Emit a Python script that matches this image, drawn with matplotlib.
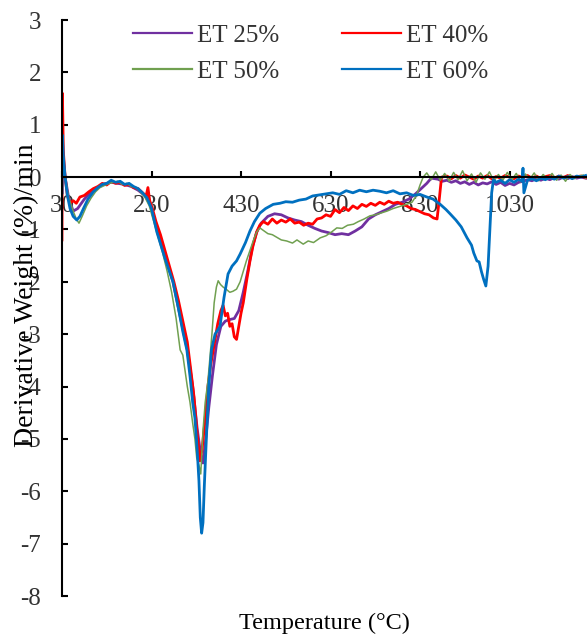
import matplotlib
matplotlib.use('Agg')
import matplotlib.pyplot as plt

plt.rcParams['font.family'] = ['Liberation Serif', 'DejaVu Serif']
plt.rcParams['axes.unicode_minus'] = False

# DTG data (temperature in C, derivative weight in %/min)
temp_25 = [30, 31, 33, 37, 45, 55, 65, 80, 95, 110, 125, 140, 155, 170, 185, 200, 215, 227,
           242, 260, 278, 295, 310, 322, 332, 340, 345, 350, 358, 366, 375, 385, 395, 405,
           415, 425, 435, 445, 455, 465, 475, 490, 505, 520, 535, 550, 565, 580, 595, 610,
           625, 640, 655, 670, 685, 700, 715, 730, 745, 760, 775, 790, 805, 820, 835, 845,
           855, 870, 880, 890, 900, 910, 920, 930, 940, 950, 960, 970, 980, 990, 1000, 1010,
           1020, 1030, 1040, 1050, 1060, 1070, 1080, 1090, 1100, 1110, 1120, 1130, 1140,
           1150, 1160, 1170, 1180, 1190, 1200]
dtg_25 = [-0.3, 0.7, 0.3, 0.0, -0.4, -0.65, -0.6, -0.42, -0.28, -0.2, -0.13, -0.1, -0.12,
          -0.14, -0.18, -0.25, -0.35, -0.52, -0.98, -1.5, -2.0, -2.7, -3.3, -4.0, -4.8, -5.3,
          -5.46, -5.1, -4.4, -3.8, -3.2, -2.85, -2.75, -2.72, -2.7, -2.55, -2.2, -1.8, -1.35,
          -1.05, -0.88, -0.75, -0.7, -0.72, -0.78, -0.82, -0.85, -0.92, -0.98, -1.03, -1.06,
          -1.1, -1.08, -1.1, -1.03, -0.95, -0.8, -0.72, -0.66, -0.6, -0.52, -0.48, -0.42,
          -0.32, -0.2, -0.12, -0.02, -0.04, -0.08, -0.06, -0.1, -0.07, -0.12, -0.09, -0.14,
          -0.1, -0.15, -0.11, -0.13, -0.09, -0.14, -0.1, -0.16, -0.12, -0.15, -0.1, -0.08,
          -0.05, -0.07, -0.03, -0.06, -0.02, -0.05, -0.01, -0.04, 0.0, -0.03, 0.01, -0.02,
          0.0, -0.02]

temp_40 = [30, 31, 33, 37, 42, 48, 55, 62, 70, 80, 90, 100, 110, 120, 130, 140, 150, 160,
           170, 180, 190, 200, 210, 218, 222, 226, 232, 240, 250, 260, 270, 280, 290, 300,
           310, 318, 325, 332, 338, 343, 350, 356, 362, 370, 378, 385, 390, 395, 400, 405,
           410, 415, 420, 425, 430, 435, 443, 450, 457, 465, 472, 480, 490, 500, 510, 520,
           530, 540, 550, 560, 570, 580, 590, 600, 610, 620, 630, 640, 650, 660, 670, 680,
           690, 700, 710, 720, 730, 740, 750, 760, 770, 780, 790, 800, 810, 820, 830, 840,
           850, 860, 868, 872, 878, 890, 900, 910, 920, 930, 940, 950, 960, 970, 980, 990,
           1000, 1010, 1020, 1030, 1040, 1050, 1060, 1070, 1080, 1090, 1100, 1110, 1120,
           1130, 1140, 1150, 1160, 1170, 1180, 1190, 1200]
dtg_40 = [-1.2, 1.6, 0.5, 0.0, -0.35, -0.5, -0.45, -0.5, -0.38, -0.35, -0.28, -0.22, -0.18,
          -0.12, -0.15, -0.08, -0.12, -0.1, -0.16, -0.14, -0.2, -0.22, -0.3, -0.36, -0.2,
          -0.45, -0.6, -0.85, -1.1, -1.4, -1.7, -2.0, -2.35, -2.75, -3.15, -3.7, -4.2, -4.9,
          -5.42, -5.2, -4.6, -4.0, -3.6, -3.2, -2.8, -2.55, -2.45, -2.65, -2.6, -2.85, -2.8,
          -3.05, -3.1, -2.85, -2.6, -2.4, -1.95, -1.6, -1.3, -1.05, -0.92, -0.85, -0.9, -0.8,
          -0.88, -0.82, -0.86, -0.8, -0.88, -0.86, -0.92, -0.88, -0.9, -0.8, -0.78, -0.72,
          -0.75, -0.62, -0.68, -0.58, -0.64, -0.55, -0.6, -0.52, -0.56, -0.5, -0.54, -0.48,
          -0.52, -0.46, -0.5, -0.48, -0.52, -0.55, -0.6, -0.62, -0.66, -0.7, -0.72, -0.78,
          -0.8, -0.5, 0.0, 0.02, -0.03, 0.03, -0.02, 0.04, 0.0, -0.04, 0.02, -0.02, 0.03,
          -0.03, 0.01, -0.02, 0.03, 0.0, -0.03, 0.02, -0.01, 0.03, -0.02, 0.02, -0.03, 0.01,
          0.03, -0.02, 0.02, -0.01, 0.03, -0.02, 0.01, 0.02, -0.01]

temp_50 = [30, 31, 33, 37, 45, 55, 62, 68, 75, 85, 95, 105, 115, 125, 135, 145, 155, 165,
           175, 185, 195, 205, 215, 225, 235, 245, 255, 265, 275, 285, 294, 300, 305, 310,
           316, 322, 327, 331, 336, 340, 345, 350, 356, 360, 365, 370, 375, 379, 384, 390,
           398, 405, 412, 420, 428, 435, 442, 450, 458, 465, 472, 480, 490, 500, 510, 520,
           532, 545, 555, 569, 580, 592, 607, 620, 632, 644, 656, 668, 681, 692, 705, 718,
           730, 745, 756, 770, 785, 800, 812, 822, 830, 837, 845, 855, 865, 875, 885, 895,
           905, 915, 925, 935, 945, 955, 965, 975, 985, 995, 1005, 1015, 1025, 1035, 1045,
           1055, 1065, 1075, 1085, 1095, 1105, 1115, 1125, 1135, 1145, 1155, 1165, 1175,
           1185, 1195, 1200]
dtg_50 = [-0.2, 0.75, 0.4, 0.0, -0.4, -0.65, -0.8, -0.88, -0.75, -0.55, -0.4, -0.28, -0.2,
          -0.16, -0.12, -0.1, -0.08, -0.14, -0.12, -0.18, -0.2, -0.28, -0.38, -0.55, -0.85,
          -1.15, -1.45, -1.8, -2.2, -2.7, -3.3, -3.4, -3.7, -4.0, -4.3, -4.7, -5.0, -5.36,
          -5.5, -5.67, -4.85, -4.3, -3.9, -3.5, -3.0, -2.4, -2.1, -1.98, -2.05, -2.1, -2.15,
          -2.2, -2.18, -2.14, -2.0, -1.8, -1.6, -1.4, -1.2, -1.05, -0.97, -1.02, -1.08, -1.1,
          -1.15, -1.2, -1.22, -1.26, -1.2, -1.28, -1.22, -1.25, -1.16, -1.12, -1.05, -0.97,
          -0.98, -0.92, -0.9, -0.85, -0.8, -0.74, -0.72, -0.68, -0.65, -0.6, -0.56, -0.52,
          -0.48, -0.35, -0.15, 0.0, 0.08, -0.05, 0.1, -0.06, 0.07, -0.08, 0.09, -0.05, 0.12,
          -0.07, 0.06, -0.1, 0.08, -0.04, 0.1, -0.08, 0.05, -0.06, 0.09, -0.05, 0.07, -0.09,
          0.06, -0.04, 0.08, -0.07, 0.05, -0.03, 0.07, -0.06, 0.04, -0.08, 0.05, -0.03, 0.02,
          0.04, -0.02]

temp_60 = [30, 31, 33, 37, 42, 48, 55, 63, 70, 78, 88, 100, 110, 120, 130, 140, 150, 160,
           170, 180, 190, 200, 210, 220, 230, 242, 260, 278, 290, 300, 309, 316, 322, 327,
           332, 336, 339, 342, 345, 348, 353, 358, 364, 372, 383, 392, 401, 410, 420, 428,
           440, 450, 460, 472, 485, 502, 517, 530, 545, 560, 575, 590, 605, 620, 635, 650,
           665, 680, 695, 710, 725, 740, 755, 770, 785, 800, 815, 830, 845, 859, 875, 888,
           897, 910, 922, 935, 945, 950, 957, 962, 967, 972, 977, 982, 986, 990, 994, 1000,
           1010, 1020, 1030, 1040, 1050, 1058, 1060, 1062, 1070, 1080, 1090, 1100, 1110,
           1120, 1130, 1140, 1150, 1160, 1170, 1180, 1190, 1200]
dtg_60 = [-0.3, 0.8, 0.4, 0.0, -0.35, -0.6, -0.75, -0.82, -0.75, -0.6, -0.42, -0.28, -0.2,
          -0.14, -0.12, -0.06, -0.1, -0.08, -0.14, -0.12, -0.18, -0.22, -0.3, -0.4, -0.6,
          -1.05, -1.55, -2.0, -2.5, -2.95, -3.3, -3.8, -4.3, -4.6, -5.2, -5.8, -6.5, -6.8,
          -6.6, -5.9, -4.9, -4.0, -3.3, -3.0, -2.85, -2.3, -1.85, -1.7, -1.6, -1.47, -1.25,
          -1.03, -0.85, -0.69, -0.6, -0.52, -0.5, -0.47, -0.48, -0.44, -0.42, -0.36, -0.34,
          -0.32, -0.3, -0.33, -0.26, -0.3, -0.25, -0.28, -0.25, -0.27, -0.3, -0.26, -0.32,
          -0.3, -0.35, -0.33, -0.38, -0.42, -0.52, -0.62, -0.7, -0.82, -0.95, -1.16, -1.3,
          -1.45, -1.6, -1.62, -1.8, -1.95, -2.08, -1.7, -1.0, -0.3, -0.05, -0.1, -0.06, -0.12,
          -0.05, -0.1, -0.04, -0.08, 0.17, -0.3, -0.06, -0.03, -0.07, -0.02, -0.05, 0.0,
          -0.04, 0.02, -0.02, 0.01, -0.03, 0.02, 0.0, 0.03]

x_ticks = [30, 230, 430, 630, 830, 1030]
y_ticks = [-8, -7, -6, -5, -4, -3, -2, -1, 0, 1, 2, 3]

fig = plt.figure(figsize=(5.87, 6.35), dpi=100)
ax = fig.add_axes([0.1056, 0.0614, 0.8944, 0.9071])

l25, = ax.plot(temp_25, dtg_25, color='#7030A0', lw=2.0, label='ET 25%')
l40, = ax.plot(temp_40, dtg_40, color='#FF0000', lw=2.0, label='ET 40%')
l50, = ax.plot(temp_50, dtg_50, color='#70A050', lw=1.1, label='ET 50%')
l60, = ax.plot(temp_60, dtg_60, color='#0070C0', lw=2.0, label='ET 60%')

ax.set_xlim(30, 1203)
ax.set_ylim(-8, 3)
ax.set_xticks(x_ticks)
ax.set_yticks(y_ticks)

ax.spines['top'].set_visible(False)
ax.spines['right'].set_visible(False)
ax.spines['bottom'].set_position(('data', 0))
ax.spines['left'].set_linewidth(1.5)
ax.spines['bottom'].set_linewidth(1.5)
ax.tick_params(direction='in', length=4.5, width=1.5, labelsize=18,
               labelcolor='#333333')
ax.tick_params(axis='x', pad=13)
ax.tick_params(axis='y', pad=15)

ax.set_xlabel('Temperature (°C)', fontsize=17.5)
ax.xaxis.set_label_coords(0.5, -0.047)
ax.xaxis.label.set_va('center')
ax.set_ylabel('Derivative Weight (%)/min', fontsize=20)
ax.yaxis.set_label_coords(-0.067, 0.523)
ax.yaxis.label.set_va('center')

leg = ax.legend(handles=[l25, l50, l40, l60], ncol=2, frameon=False, fontsize=18,
                loc='upper left', bbox_to_anchor=(0.135, 0.993), borderpad=0,
                borderaxespad=0, handlelength=2.36, handletextpad=0.2,
                columnspacing=2.5, labelspacing=0.55, labelcolor='#333333')
for h in leg.legend_handles:
    h.set_linewidth(1.6)

fig.savefig('out.png', dpi=100)
